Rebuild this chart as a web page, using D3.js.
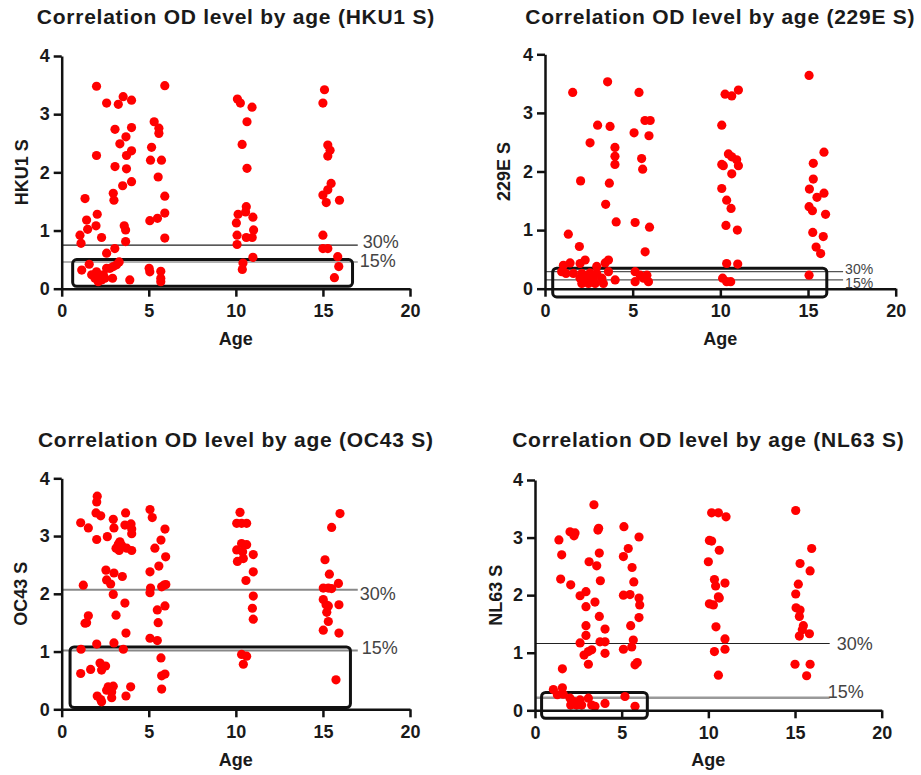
<!DOCTYPE html>
<html>
<head>
<meta charset="utf-8">
<script src="https://cdn.jsdelivr.net/npm/d3@7"></script>
<style>
  body { margin: 0; background: #fff; }
  svg text { font-family: "Liberation Sans", Arial, sans-serif; }
</style>
</head>
<body>
<svg id="chart" width="921" height="775"></svg>
<script>
// Datos: edad (x) y nivel OD (y) por antigeno
var hku1Age = [1.34,2.00,2.00,2.04,1.43,1.49,1.97,1.05,1.11,2.29,2.58,2.96,3.00,3.06,3.06,3.25,3.34,3.53,3.50,3.69,
  3.72,3.72,3.59,3.67,3.67,4.01,4.01,4.01,4.01,3.05,2.58,
  3.30,2.96,2.58,2.77,3.15,1.15,1.58,1.72,2.00,2.16,2.29,2.10,2.48,2.92,1.91,2.39,3.91,5.02,5.06,5.69,5.69,5.69,
  5.92,5.31,5.58,5.58,5.16,5.10,5.73,5.54,5.92,5.92,5.50,5.06,5.92,
  10.09,10.26,10.03,10.13,10.07,10.07,10.36,10.64,10.64,10.60,10.56,10.60,10.93,10.98,11.02,10.94,10.98,10.41,10.37,
  15.09,15.00,15.28,15.41,15.28,15.47,15.28,15.00,15.19,15.95,15.00,15.00,15.28,15.85,15.91,15.66];
var hku1OD = [1.55,3.48,2.29,1.28,1.18,1.02,1.08,0.92,0.78,0.88,3.19,1.64,1.52,2.74,2.10,3.17,2.49,3.30,1.77,2.61,
  2.29,2.06,1.08,1.01,0.81,3.24,2.77,2.37,1.84,0.69,0.61,
  0.46,0.38,0.35,0.35,0.41,0.32,0.42,0.24,0.29,0.21,0.15,0.12,0.18,0.18,0.18,0.24,0.15,0.35,0.29,0.30,0.18,0.12,
  3.49,2.87,2.76,2.67,2.43,2.21,2.21,1.92,1.59,1.30,1.21,1.17,0.87,
  3.26,3.19,1.13,1.28,0.92,0.76,2.48,2.87,2.07,1.41,1.32,0.88,3.12,1.23,1.01,0.88,0.54,0.44,0.33,
  3.42,3.19,2.47,2.38,2.28,1.81,1.70,1.61,1.48,1.52,0.92,0.69,0.69,0.55,0.38,0.19];

var e229Age = [1.58,1.33,1.96,2.03,2.57,3.00,3.57,3.71,3.46,3.67,3.99,3.99,3.99,4.06,
  1.05,1.43,2.00,2.29,2.95,3.43,3.62,0.95,1.20,1.62,2.10,2.57,2.95,3.62,2.00,2.38,2.76,3.24,4.00,2.10,2.48,2.86,3.33,
  5.08,5.36,5.14,5.51,5.57,5.70,6.00,5.93,5.96,5.71,5.14,5.14,5.62,5.90,5.81,5.43,
  10.08,10.27,10.65,11.03,10.08,10.17,10.46,10.65,10.93,11.03,10.65,10.08,10.36,10.61,10.32,10.97,10.36,10.99,10.13,10.36,10.59,
  15.06,15.30,15.30,15.08,15.91,15.51,15.91,16.00,15.06,15.25,15.27,15.87,15.46,15.72,15.06];
var e229OD = [3.35,0.93,0.72,1.84,2.49,2.79,3.53,2.77,1.44,1.80,2.41,2.26,2.12,1.14,
  0.40,0.44,0.43,0.49,0.38,0.44,0.49,0.29,0.26,0.26,0.26,0.27,0.26,0.29,0.18,0.18,0.18,0.18,0.15,0.09,0.09,0.09,0.09,
  2.66,3.35,1.13,2.22,2.04,2.87,2.87,2.61,1.05,0.63,0.29,0.12,0.18,0.12,0.23,0.23,
  2.79,3.32,3.29,3.39,2.12,2.10,2.30,2.25,2.20,2.10,1.96,1.71,1.51,1.37,1.08,1.00,0.43,0.42,0.18,0.12,0.12,
  3.64,2.14,1.87,1.70,2.33,1.56,1.63,1.27,1.40,1.33,0.96,0.89,0.71,0.60,0.23];

var oc43Age = [2.04,2.01,1.97,2.24,1.09,1.53,2.01,2.62,2.96,3.00,3.67,3.63,3.98,4.02,4.02,3.34,3.25,3.12,3.30,3.44,3.73,4.02,
  5.07,5.20,5.93,5.70,5.35,5.97,5.58,5.07,2.54,3.00,3.48,2.58,2.81,1.24,2.96,3.63,3.12,1.53,1.43,1.34,
  5.10,5.07,5.74,5.87,5.98,5.93,5.49,5.54,3.69,5.07,5.49,2.01,3.00,1.11,3.54,5.70,2.20,2.52,2.29,1.66,1.09,5.74,5.93,5.74,
  2.67,2.96,2.87,2.58,3.96,3.69,2.04,2.24,2.29,2.87,
  10.24,10.05,10.62,10.33,10.33,10.62,10.05,10.39,10.09,10.43,11.00,10.58,11.00,11.00,10.95,11.00,10.33,10.62,10.43,
  15.12,15.37,15.02,15.31,15.50,15.02,15.18,15.31,15.22,15.31,15.02,15.50,15.98,15.89,15.92,15.92,15.75];
var oc43OD = [3.69,3.59,3.40,3.35,3.23,3.14,2.94,2.99,3.29,3.14,3.40,3.19,3.21,3.12,3.04,2.90,2.86,2.79,2.75,2.84,2.79,2.75,
  3.46,3.32,3.12,2.93,2.79,2.64,2.48,2.38,2.41,2.36,2.30,2.24,2.17,2.15,1.99,1.84,1.63,1.62,1.50,1.49,
  2.10,2.02,2.12,2.15,2.16,1.79,1.72,1.50,1.32,1.23,1.19,1.13,1.15,1.04,1.04,0.89,0.80,0.75,0.68,0.69,0.62,0.58,0.61,0.35,
  0.39,0.40,0.30,0.33,0.39,0.23,0.23,0.17,0.13,0.20,
  3.41,3.22,3.22,2.87,3.22,2.85,2.76,2.73,2.56,2.61,2.68,2.23,2.38,1.96,1.75,1.56,0.95,0.92,0.78,
  2.59,2.34,2.10,2.10,2.09,1.90,1.81,1.79,1.68,1.52,1.37,3.15,3.39,2.18,1.81,1.32,0.51];

var nl63Age = [1.38,1.54,1.48,1.58,2.02,2.31,2.25,2.06,2.60,2.60,2.94,2.94,2.94,2.94,2.83,3.08,3.12,3.08,3.27,3.40,3.46,3.56,
  3.63,3.67,3.71,3.77,3.71,3.75,4.04,4.04,4.04,
  1.06,1.58,1.29,1.63,2.02,2.06,2.40,2.60,2.69,3.08,3.27,3.46,4.04,5.19,5.77,2.25,
  5.13,5.38,5.10,5.60,5.70,5.10,5.48,6.00,6.04,6.00,5.52,5.67,5.58,5.10,5.77,5.90,6.00,
  10.19,10.58,11.02,10.06,10.19,10.63,10.00,10.35,10.42,10.96,10.58,10.63,10.06,10.29,10.44,10.35,10.96,10.96,10.58,
  15.04,15.29,15.96,15.87,15.19,15.04,15.06,15.29,15.25,15.48,15.42,15.25,15.83,15.00,15.87,15.67];
var nl63OD = [2.96,2.70,2.28,0.72,3.10,3.08,3.03,2.18,1.99,1.17,2.06,1.80,1.47,1.30,0.96,0.80,2.58,1.02,1.05,3.57,1.88,2.51,
  3.13,3.16,2.73,2.25,1.63,1.19,1.41,1.19,0.99,
  0.36,0.39,0.27,0.28,0.21,0.09,0.09,0.18,0.09,0.21,0.09,0.07,0.12,0.24,0.07,0.15,
  3.19,2.81,2.67,2.48,2.23,2.00,2.01,1.95,1.83,1.61,1.47,1.22,1.10,1.06,0.79,0.83,3.01,
  3.43,3.43,3.36,2.95,2.94,2.78,2.58,2.27,2.16,2.21,1.97,1.95,1.85,1.83,1.45,1.02,1.24,1.06,0.61,
  3.47,2.55,2.81,2.42,2.19,2.02,1.78,1.74,1.63,1.47,1.40,1.29,1.33,0.80,0.80,0.60];

// Umbrales 30% / 15% y recuadro resaltado [x0, x1, y0, y1]
var cutLabels = ["30%", "15%"];
var hku1Cut = [0.75, 0.46], e229Cut = [0.29, 0.15], oc43Cut = [2.07, 1.02], nl63Cut = [1.16, 0.22];
var hku1Box = [0.63, 16.7, 0.04, 0.5], e229Box = [0.44, 16.07, -0.14, 0.35],
    oc43Box = [0.48, 16.58, 0.03, 1.08], nl63Box = [0.38, 6.48, -0.14, 0.31];
var xTicks = [0, 5, 10, 15, 20], yTicks = [0, 1, 2, 3, 4];

var svg = d3.select("#chart");

var panels = [
  { title: "Correlation OD level by age (HKU1 S)", yLabel: "HKU1 S", age: hku1Age, od: hku1OD, cut: hku1Cut, box: hku1Box,
    left: 61.7, right: 410, top: 56, bottom: 288.7, titleY: 24, yLabX: 21.5, xLabY: 345,
    lineColor: ["#222", "#999"], lineW: [1.2, 1.6], labSize: 18, labDx: [5, 2], labDy: [-3, -1] },
  { title: "Correlation OD level by age (229E S)", yLabel: "229E S", age: e229Age, od: e229OD, cut: e229Cut, box: e229Box,
    left: 545, right: 895.7, top: 54.3, bottom: 288.7, titleY: 24, yLabX: 504, xLabY: 345,
    lineColor: ["#555", "#555"], lineW: [1.2, 1.2], labSize: 14, labDx: [2, 2], labDy: [-3, 3] },
  { title: "Correlation OD level by age (OC43 S)", yLabel: "OC43 S", age: oc43Age, od: oc43OD, cut: oc43Cut, box: oc43Box,
    left: 61.7, right: 410, top: 478.3, bottom: 709.3, titleY: 447, yLabX: 20.7, xLabY: 765.7,
    lineColor: ["#888", "#888"], lineW: [2, 2], labSize: 18, labDx: [2, 4], labDy: [4, -3] },
  { title: "Correlation OD level by age (NL63 S)", yLabel: "NL63 S", age: nl63Age, od: nl63OD, cut: nl63Cut, box: nl63Box,
    left: 535, right: 881.7, top: 480, bottom: 710.3, titleY: 447, yLabX: 495.5, xLabY: 765.7,
    lineColor: ["#222", "#999"], lineW: [1.2, 2.5], labSize: 18, labDx: [7, -2], labDy: [0, -6] }
];

panels.forEach(function(p) {
  var x = d3.scaleLinear().domain([0, 20]).range([p.left, p.right]);
  var y = d3.scaleLinear().domain([0, 4]).range([p.bottom, p.top]);
  var g = svg.append("g");

  // Lineas de umbral
  p.cut.forEach(function(v, i) {
    g.append("line")
      .attr("x1", x(0)).attr("x2", x(17))
      .attr("y1", y(v)).attr("y2", y(v))
      .attr("stroke", p.lineColor[i]).attr("stroke-width", p.lineW[i]);
    g.append("text")
      .attr("x", x(17) + p.labDx[i])
      .attr("y", y(v) + p.labDy[i])
      .attr("dy", "0.35em")
      .attr("font-size", p.labSize)
      .attr("fill", "#444")
      .text(cutLabels[i]);
  });

  // Recuadro
  g.append("rect")
    .attr("x", x(p.box[0])).attr("y", y(p.box[3]))
    .attr("width", x(p.box[1]) - x(p.box[0]))
    .attr("height", y(p.box[2]) - y(p.box[3]))
    .attr("rx", 4)
    .attr("fill", "none").attr("stroke", "#111").attr("stroke-width", 3);

  // Puntos
  g.selectAll(".dot")
    .data(p.age)
  .enter().append("circle")
    .attr("class", "dot")
    .attr("cx", function(d) { return x(d); })
    .attr("cy", function(d, i) { return y(p.od[i]); })
    .attr("r", 4.6)
    .attr("fill", "#ff0000");

  // Ejes
  var ax = g.append("g")
    .attr("transform", "translate(0," + y(0) + ")")
    .call(d3.axisBottom(x).tickValues(xTicks).tickFormat(d3.format("d"))
      .tickSize(8).tickPadding(8).tickSizeOuter(0));
  var ay = g.append("g")
    .attr("transform", "translate(" + x(0) + ",0)")
    .call(d3.axisLeft(y).tickValues(yTicks).tickFormat(d3.format("d"))
      .tickSize(8).tickPadding(4).tickSizeOuter(0));
  [ax, ay].forEach(function(a) {
    a.select(".domain").attr("stroke", "#111").attr("stroke-width", 2.5);
    a.selectAll(".tick line").attr("stroke", "#111").attr("stroke-width", 2.5);
    a.selectAll(".tick text")
      .attr("font-size", 18).attr("font-weight", "bold")
      .attr("fill", "#1a1a1a");
  });

  // Titulos
  g.append("text")
    .attr("x", (p.left + p.right) / 2).attr("y", p.titleY)
    .attr("text-anchor", "middle")
    .attr("font-size", 21).attr("font-weight", "bold")
    .attr("letter-spacing", 0.75)
    .attr("fill", "#1a1a1a")
    .text(p.title);
  g.append("text")
    .attr("x", (p.left + p.right) / 2).attr("y", p.xLabY)
    .attr("text-anchor", "middle")
    .attr("font-size", 18).attr("font-weight", "bold")
    .attr("fill", "#1a1a1a")
    .text("Age");
  g.append("text")
    .attr("transform", "translate(" + p.yLabX + "," + (p.top + p.bottom) / 2 + ") rotate(-90)")
    .attr("text-anchor", "middle")
    .attr("dy", "0.35em")
    .attr("font-size", 18).attr("font-weight", "bold")
    .attr("fill", "#1a1a1a")
    .text(p.yLabel);
});
</script>
</body>
</html>
